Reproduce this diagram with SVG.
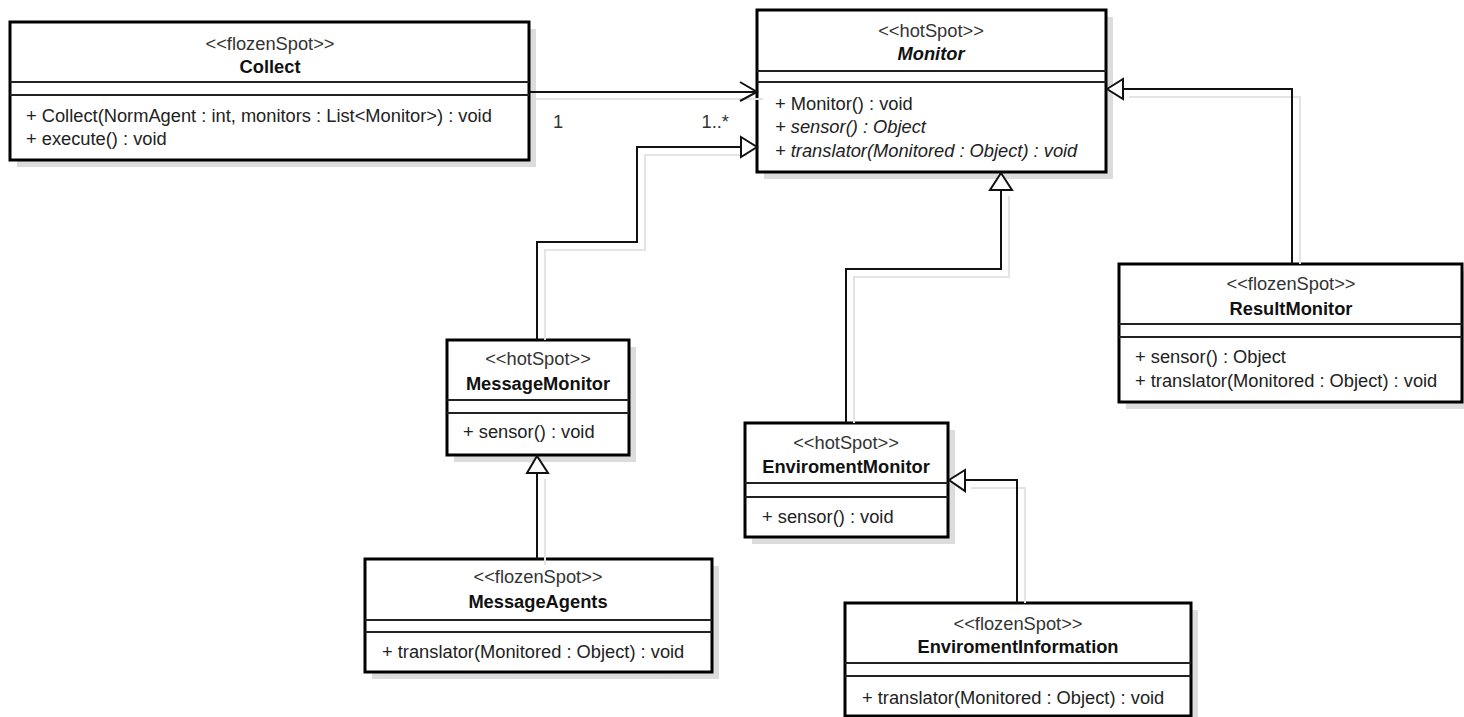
<svg xmlns="http://www.w3.org/2000/svg" width="1464" height="717" viewBox="0 0 1464 717">
<style>
.bg{fill:#fff}
.shadow{fill:#dcdcdc}
.box{fill:#fff;stroke:#000;stroke-width:3}
.sep{stroke:#222;stroke-width:2}
text{font-family:"Liberation Sans",Arial,sans-serif;font-size:18.3px;fill:#222}
.st{text-anchor:middle;fill:#333}
.nm{text-anchor:middle;font-weight:bold;fill:#111}
.it{font-style:italic}
.conn{fill:none;stroke:#111;stroke-width:2}
.csh{fill:none;stroke:#e4e4e4;stroke-width:2}
.tri{fill:#fff;stroke:#111;stroke-width:2;stroke-linejoin:miter}
.lbl{fill:#333}
</style>
<rect class="bg" x="0" y="0" width="1464" height="717"/>

<g id="Collect">
<rect class="shadow" x="17" y="29" width="519" height="138"/>
<rect class="box" x="10" y="22" width="519" height="138"/>
<line class="sep" x1="10" y1="82" x2="529" y2="82"/>
<line class="sep" x1="10" y1="95" x2="529" y2="95"/>
<text class="st" x="270" y="50">&lt;&lt;flozenSpot&gt;&gt;</text>
<text class="nm" x="270" y="73">Collect</text>
<text x="26" y="122">+ Collect(NormAgent : int, monitors : List&lt;Monitor&gt;) : void</text>
<text x="26" y="145">+ execute() : void</text>
</g>

<g id="Monitor">
<rect class="shadow" x="764" y="17" width="349" height="162"/>
<rect class="box" x="757" y="10" width="349" height="162"/>
<line class="sep" x1="757" y1="71" x2="1106" y2="71"/>
<line class="sep" x1="757" y1="82" x2="1106" y2="82"/>
<text class="st" x="931" y="37">&lt;&lt;hotSpot&gt;&gt;</text>
<text class="nm it" x="931" y="60">Monitor</text>
<text x="775" y="110">+ Monitor() : void</text>
<text class="it" x="775" y="133">+ sensor() : Object</text>
<text class="it" x="775" y="157">+ translator(Monitored : Object) : void</text>
</g>

<g id="MessageMonitor">
<rect class="shadow" x="454" y="347" width="182" height="115"/>
<rect class="box" x="447" y="340" width="182" height="115"/>
<line class="sep" x1="447" y1="400" x2="629" y2="400"/>
<line class="sep" x1="447" y1="413" x2="629" y2="413"/>
<text class="st" x="538" y="365">&lt;&lt;hotSpot&gt;&gt;</text>
<text class="nm" x="538" y="390">MessageMonitor</text>
<text x="463" y="438">+ sensor() : void</text>
</g>

<g id="MessageAgents">
<rect class="shadow" x="372" y="566" width="347" height="113"/>
<rect class="box" x="365" y="559" width="347" height="113"/>
<line class="sep" x1="365" y1="620" x2="712" y2="620"/>
<line class="sep" x1="365" y1="632" x2="712" y2="632"/>
<text class="st" x="538" y="583">&lt;&lt;flozenSpot&gt;&gt;</text>
<text class="nm" x="538" y="608">MessageAgents</text>
<text x="382" y="658">+ translator(Monitored : Object) : void</text>
</g>

<g id="EnviromentMonitor">
<rect class="shadow" x="752" y="430" width="203" height="114"/>
<rect class="box" x="745" y="423" width="203" height="114"/>
<line class="sep" x1="745" y1="483" x2="948" y2="483"/>
<line class="sep" x1="745" y1="497" x2="948" y2="497"/>
<text class="st" x="846" y="449">&lt;&lt;hotSpot&gt;&gt;</text>
<text class="nm" x="846" y="473">EnviromentMonitor</text>
<text x="762" y="523">+ sensor() : void</text>
</g>

<g id="EnviromentInformation">
<rect class="shadow" x="852" y="610" width="346" height="113"/>
<rect class="box" x="845" y="603" width="346" height="113"/>
<line class="sep" x1="845" y1="663" x2="1191" y2="663"/>
<line class="sep" x1="845" y1="676" x2="1191" y2="676"/>
<text class="st" x="1018" y="630">&lt;&lt;flozenSpot&gt;&gt;</text>
<text class="nm" x="1018" y="653">EnviromentInformation</text>
<text x="862" y="704">+ translator(Monitored : Object) : void</text>
</g>

<g id="ResultMonitor">
<rect class="shadow" x="1126" y="271" width="343" height="138"/>
<rect class="box" x="1119" y="264" width="343" height="138"/>
<line class="sep" x1="1119" y1="324" x2="1462" y2="324"/>
<line class="sep" x1="1119" y1="337" x2="1462" y2="337"/>
<text class="st" x="1291" y="290">&lt;&lt;flozenSpot&gt;&gt;</text>
<text class="nm" x="1291" y="315">ResultMonitor</text>
<text x="1135" y="363">+ sensor() : Object</text>
<text x="1135" y="387">+ translator(Monitored : Object) : void</text>
</g>

<g id="connectors">
<g id="connector-shadows">
<path class="csh" d="M536 99 H763"/>
<path class="csh" d="M545 340 V250 H645 V155 H747"/>
<path class="csh" d="M545 565 V479"/>
<path class="csh" d="M854 423 V277 H1009 V196"/>
<path class="csh" d="M1025 603 V488 H971"/>
<path class="csh" d="M1300 264 V97 H1129"/>
</g>
<g id="assoc-Collect-Monitor">
<path class="conn" d="M529 92 H756"/>
<path class="conn" d="M740 82 L757 92 L740 101"/>
<text class="lbl" x="553" y="128">1</text>
<text class="lbl" x="729" y="128" text-anchor="end">1..*</text>
</g>
<g id="gen-MessageMonitor-Monitor">
<path class="conn" d="M537 340 V242 H637 V147 H741"/>
<polygon class="tri" points="741,137 757,147 741,157"/>
</g>
<g id="gen-MessageAgents-MessageMonitor">
<path class="conn" d="M537 559 V473"/>
<polygon class="tri" points="537,456 527,473 548,473"/>
</g>
<g id="gen-EnviromentMonitor-Monitor">
<path class="conn" d="M846 423 V269 H1001 V190"/>
<polygon class="tri" points="1001,173 990,190 1012,190"/>
</g>
<g id="gen-EnviromentInformation-EnviromentMonitor">
<path class="conn" d="M1017 603 V480 H965"/>
<polygon class="tri" points="949,480 965,470 965,491"/>
</g>
<g id="gen-ResultMonitor-Monitor">
<path class="conn" d="M1292 264 V89 H1123"/>
<polygon class="tri" points="1107,89 1123,79 1123,99"/>
</g>
</g>
</svg>
